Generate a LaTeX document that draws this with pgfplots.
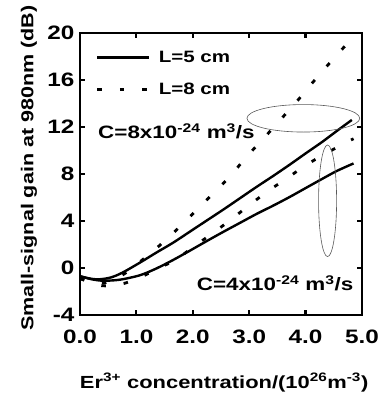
\documentclass[border=0pt]{standalone}
\usepackage{fontspec}
\setmainfont{Liberation Sans}[FakeStretch=1.25, BoldFeatures={FakeStretch=1.25}]
\usepackage{pgfplots}
\pgfplotsset{compat=1.18}

\pgfplotstableread{
x y
0.00 -0.70
0.20 -0.92
0.35 -0.96
0.55 -0.80
0.75 -0.40
1.06 0.45
1.35 1.30
1.65 2.15
1.95 3.10
2.25 4.05
2.55 5.00
2.84 5.95
3.13 6.90
3.43 7.85
3.72 8.80
4.00 9.75
4.30 10.75
4.55 11.65
4.82 12.60
}\solidA

\pgfplotstableread{
x y
0.00 -0.70
0.20 -0.95
0.40 -1.08
0.70 -1.00
1.06 -0.62
1.35 -0.05
1.65 0.68
1.95 1.48
2.25 2.30
2.55 3.10
2.84 3.85
3.13 4.60
3.43 5.32
3.72 6.05
4.00 6.80
4.30 7.60
4.55 8.25
4.85 8.90
}\solidB

\pgfplotstableread{
x y
0.00 -0.90
0.20 -1.20
0.40 -1.30
0.60 -1.00
0.80 -0.45
1.03 0.40
1.36 1.70
1.68 3.10
2.01 4.65
2.33 6.20
2.66 7.80
2.95 9.45
3.25 11.00
3.55 12.60
3.84 14.15
4.11 15.70
4.40 17.30
4.70 18.90
4.80 19.45
}\dotA

\pgfplotstableread{
x y
0.00 -0.90
0.38 -1.50
0.71 -1.40
1.03 -0.88
1.36 -0.10
1.71 0.75
2.03 1.87
2.35 2.95
2.67 4.10
2.99 5.30
3.32 6.50
3.65 7.57
3.99 8.70
4.31 9.62
4.67 10.55
4.85 11.00
}\dotB

\begin{document}
\begin{tikzpicture}
\begin{axis}[
  scale only axis, width=282bp, height=282bp,
  xmin=0, xmax=5, ymin=-4, ymax=20,
  xtick={0,1,2,3,4,5}, ytick={-4,0,4,8,12,16,20},
  tick align=inside, major tick length=5bp,
  axis line style={line width=2.6bp},
  every tick/.style={line width=2.2bp, black},
  clip=false,
  /pgf/number format/assume math mode=true,
  ticklabel style={font=\bfseries\fontsize{19.5}{19.5}\selectfont},
  xticklabel style={/pgf/number format/.cd, fixed, fixed zerofill, precision=1, /tikz/.cd, yshift=-11bp},
  yticklabel style={xshift=-2bp},
  xlabel={Er\textsuperscript{3+} concentration/(10\textsuperscript{26}m\textsuperscript{-3})},
  ylabel={Small-signal gain at 980nm (dB)},
  xlabel style={font=\bfseries\fontsize{17.6}{17.6}\selectfont, at={(axis description cs:0.511,-0.259)}, anchor=base},
  ylabel style={font=\bfseries\fontsize{17.3}{17.3}\selectfont, at={(axis description cs:-0.181,0.521)}, anchor=center, rotate=0},
  legend style={draw=none, fill=none, at={(axis cs:0.28,18.65)}, anchor=north west,
    font=\bfseries\fontsize{16.5}{16.5}\selectfont, row sep=15bp, inner sep=0pt,
    nodes={inner xsep=8bp}},
  legend cell align=left,
  legend image code/.code={\draw[#1] (0bp,0bp) -- (52bp,0bp);},
  solidline/.style={black, line width=2.4bp, smooth},
  dotline/.style={black, line width=2.8bp, smooth, dash pattern=on 4.5bp off 18bp},
]
\addplot[solidline] table {\solidA};
\addlegendentry{L=5 cm}
\addplot[dotline] table {\dotA};
\addlegendentry{L=8 cm}
\addplot[solidline, forget plot] table {\solidB};
\addplot[dotline, forget plot] table {\dotB};

\draw[gray!70!black, line width=0.6bp] (axis cs:3.96,12.74) ellipse [x radius=1.0, y radius=1.17];
\draw[gray!70!black, line width=0.6bp] (axis cs:4.39,5.72) ellipse [x radius=0.16, y radius=4.75];

\node[anchor=base west, inner sep=0pt, font=\bfseries\fontsize{18}{18}\selectfont] at (axis cs:0.32,10.98) {C=8x10\textsuperscript{-24} m\textsuperscript{3}/s};
\node[anchor=base west, inner sep=0pt, font=\bfseries\fontsize{18}{18}\selectfont] at (axis cs:2.07,-1.9) {C=4x10\textsuperscript{-24} m\textsuperscript{3}/s};
\end{axis}
\pgfresetboundingbox
\path (-80bp,-83bp) rectangle (301bp,315bp);
\end{tikzpicture}
\end{document}
